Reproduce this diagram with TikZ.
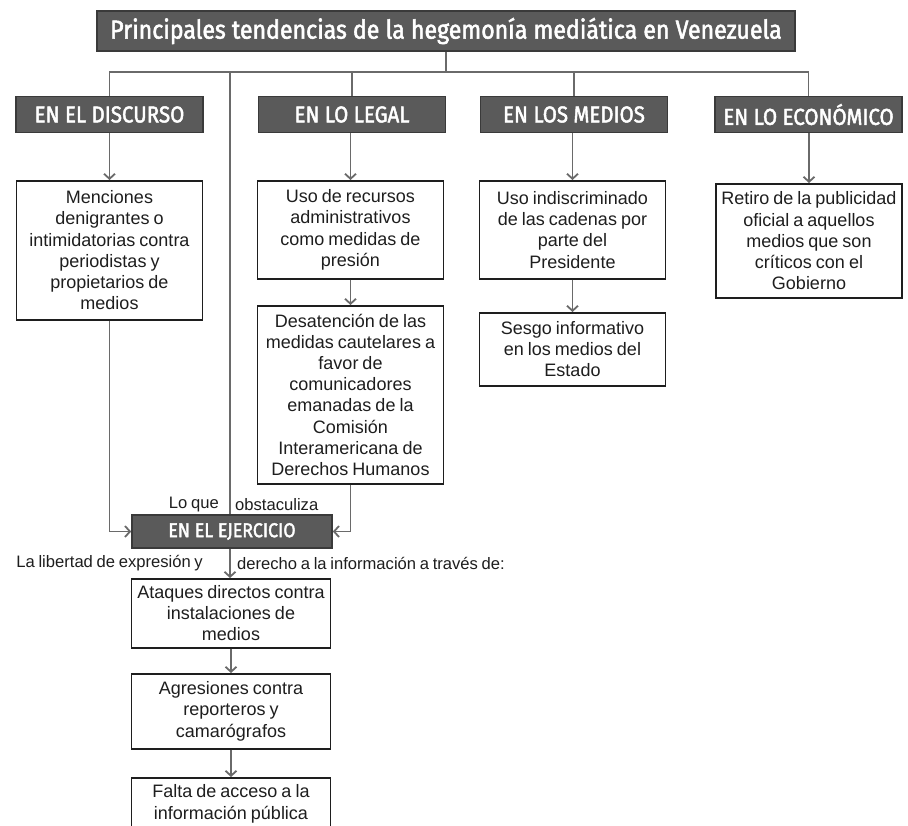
\documentclass[tikz,border=0pt]{standalone}
\usepackage{fontspec}
\setmainfont{Liberation Sans}[WordSpace=0.8]
\newfontfamily\headfont{Fira Sans}[FakeStretch=0.89,FakeBold=2]
\usetikzlibrary{arrows.meta}
\definecolor{hdfill}{HTML}{5A5A5A}
\definecolor{hddraw}{HTML}{3A3A3A}
\definecolor{conncol}{HTML}{6A6A6A}
\definecolor{txt}{HTML}{1E1E1E}
\tikzset{
 hdbox/.style={draw=hddraw, fill=hdfill, line width=1.6pt, text=white,
   font=\headfont\fontsize{23}{25}\selectfont, inner sep=0pt,
   minimum height=36pt, minimum width=187pt},
 titlebox/.style={hdbox, minimum width=698pt, minimum height=40pt,
   font=\headfont\fontsize{26}{28}\selectfont},
 cbox/.style={draw=txt, fill=white, line width=1.6pt, text=txt,
   font=\fontsize{18}{21.2}\selectfont, align=center, inner sep=0pt,
   minimum width=186pt, anchor=north},
 lbl/.style={text=txt, font=\fontsize{16.6}{20}\selectfont, inner sep=0pt},
 conn/.style={draw=conncol, line width=1.8pt},
 arr/.style={conn, -{Straight Barb[length=5pt,width=11pt]}},
}
\begin{document}
\begin{tikzpicture}[x=1pt,y=-1pt]
\useasboundingbox (0,0) rectangle (908,825);
\clip (0,0) rectangle (908,825);
\fill[white] (0,0) rectangle (908,825);

% title and headers
\node[titlebox] (title) at (446,31) {Principales tendencias de la hegemonía mediática en Venezuela};
\node[hdbox] (h1) at (109.5,114.5) {EN EL DISCURSO};
\node[hdbox] (h2) at (352,114.5) {EN LO LEGAL};
\node[hdbox] (h3) at (574,114.5) {EN LOS MEDIOS};
\node[hdbox] (h4) at (808.5,114.5) {EN LO ECONÓMICO};

% content boxes
\node[cbox, minimum height=139pt] (c1) at (109.5,180) {Menciones\\denigrantes o\\intimidatorias contra\\periodistas y\\propietarios de\\medios};
\node[cbox, minimum height=98pt] (c2) at (350.5,180) {Uso de recursos\\administrativos\\como medidas de\\presión};
\node[cbox, minimum height=178pt] (c3) at (350.5,305) {Desatención de las\\medidas cautelares a\\favor de\\comunicadores\\emanadas de la\\Comisión\\Interamericana de\\Derechos Humanos};
\node[cbox, minimum height=98pt] (c4) at (572.5,180) {Uso indiscriminado\\de las cadenas por\\parte del\\Presidente};
\node[cbox, minimum height=73pt] (c5) at (572.5,312) {Sesgo informativo\\en los medios del\\Estado};
\node[cbox, minimum height=114pt] (c6) at (809,183) {Retiro de la publicidad\\oficial a aquellos\\medios que son\\críticos con el\\Gobierno};

\node[hdbox, minimum width=200pt, minimum height=33pt, font=\headfont\fontsize{20}{24}\selectfont] (ej) at (232,531.5) {EN EL EJERCICIO};

\node[cbox, minimum width=199pt, minimum height=69pt] (a1) at (231,578) {Ataques directos contra\\instalaciones de\\medios};
\node[cbox, minimum width=199pt, minimum height=75pt] (a2) at (231,673) {Agresiones contra\\reporteros y\\camarógrafos};
\node[cbox, minimum width=199pt, minimum height=52pt] (a3) at (231,777) {Falta de acceso a la\\información pública};

% labels
\node[lbl, anchor=east] (lq1) at (219,505) {Lo que};
\node[lbl, anchor=west] (lq2) at (235,505) {obstaculiza};
\node[lbl, anchor=east] (lb1) at (203,563) {La libertad de expresión y};
\node[lbl, anchor=west] (lb2) at (237,563) {derecho a la información a través de:};

% connectors
\coordinate (hl) at (110,72);
\coordinate (vx) at (230,72);
\draw[conn] (title.south) -- (title.south |- hl);
\draw[conn] (h1.north) -- (h1.north |- hl) -- (h4.north |- hl) -- (h4.north);
\draw[conn] (h2.north) -- (h2.north |- hl);
\draw[conn] (h3.north) -- (h3.north |- hl);
\draw[conn] (vx) -- (vx |- ej.north);

\draw[arr] (h1.south) -- (c1.north);
\draw[arr] (c2.north |- h2.south) -- (c2.north);
\draw[arr] (c2.south) -- (c3.north);
\draw[arr] (c4.north |- h3.south) -- (c4.north);
\draw[arr] (c4.south) -- (c5.north);
\draw[arr] (c6.north |- h4.south) -- (c6.north);
\draw[arr] (c1.south) |- (ej.west);
\draw[arr] (c3.south) |- (ej.east);
\draw[arr] (vx |- ej.south) -- (vx |- a1.north);
\draw[arr] (a1.south) -- (a2.north);
\draw[arr] (a2.south) -- (a3.north);
\end{tikzpicture}
\end{document}
